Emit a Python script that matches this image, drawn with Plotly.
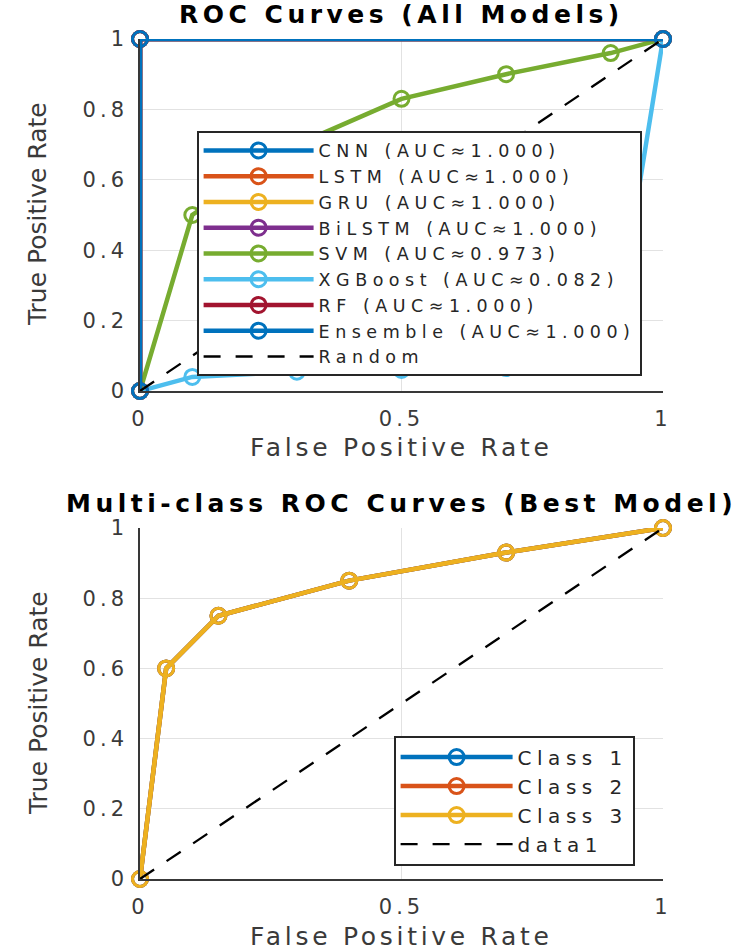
import plotly.graph_objects as go

# ---------------- data ----------------
model_names = ["CNN", "LSTM", "GRU", "BiLSTM", "SVM", "XGBoost", "RF", "Ensemble"]
model_auc = ["1.000", "1.000", "1.000", "1.000", "0.973", "0.082", "1.000", "1.000"]
model_colors = ["#0072BD", "#D95319", "#EDB120", "#7E2F8E", "#77AC30", "#4DBEEE", "#A2142F", "#0072BD"]

perfect_fpr = [0, 0, 1]
perfect_tpr = [0, 1, 1]
svm_fpr = [0, 0.1, 0.3, 0.5, 0.7, 0.9, 1]
svm_tpr = [0, 0.5, 0.7, 0.83, 0.9, 0.96, 1]
xgb_fpr = [0, 0.1, 0.3, 0.5, 0.7, 0.9, 1]
xgb_tpr = [0, 0.04, 0.055, 0.06, 0.065, 0.08, 1]

class_names = ["Class 1", "Class 2", "Class 3"]
class_colors = ["#0072BD", "#D95319", "#EDB120"]
class_fpr = [0, 0.05, 0.15, 0.4, 0.7, 1]
class_tpr = [0, 0.6, 0.75, 0.85, 0.93, 1]

diag_x = [0, 1]
diag_y = [0, 1]

x_tickvals = [0, 0.5, 1]
x_ticktext = ["0", "0.5", "1"]
y_tickvals = [0, 0.2, 0.4, 0.6, 0.8, 1]
y_ticktext = ["0", "0.2", "0.4", "0.6", "0.8", "1"]

curve_data = {
    "CNN": (perfect_fpr, perfect_tpr),
    "LSTM": (perfect_fpr, perfect_tpr),
    "GRU": (perfect_fpr, perfect_tpr),
    "BiLSTM": (perfect_fpr, perfect_tpr),
    "SVM": (svm_fpr, svm_tpr),
    "XGBoost": (xgb_fpr, xgb_tpr),
    "RF": (perfect_fpr, perfect_tpr),
    "Ensemble": (perfect_fpr, perfect_tpr),
}

# ---------------- style ----------------
FONT = "DejaVu Sans"
TXT = "#3a3a3a"
LW = 4.5
MS = 15
MLW = 3


def sp(text, px):
    return f'<span style="letter-spacing:{px}px">{text}</span>'


fig = go.Figure()

for name, auc, col in zip(model_names, model_auc, model_colors):
    fx, fy = curve_data[name]
    fig.add_trace(go.Scatter(
        x=fx, y=fy, mode="lines+markers",
        name=sp(f"{name} (AUC\u2248{auc})", 5.5),
        line=dict(color=col, width=LW),
        marker=dict(symbol="circle-open", size=MS, color=col, line=dict(width=MLW, color=col)),
        cliponaxis=False, xaxis="x", yaxis="y", legend="legend",
    ))

fig.add_trace(go.Scatter(
    x=diag_x, y=diag_y, mode="lines", name=sp("Random", 5.5),
    line=dict(color="black", width=2.3, dash="17px,15px"),
    xaxis="x", yaxis="y", legend="legend",
))

for name, col in zip(class_names, class_colors):
    fig.add_trace(go.Scatter(
        x=class_fpr, y=class_tpr, mode="lines+markers",
        name=sp(name, 5.5),
        line=dict(color=col, width=LW),
        marker=dict(symbol="circle-open", size=MS, color=col, line=dict(width=MLW, color=col)),
        cliponaxis=False, xaxis="x2", yaxis="y2", legend="legend2",
    ))

fig.add_trace(go.Scatter(
    x=diag_x, y=diag_y, mode="lines", name=sp("data1", 5.5),
    line=dict(color="black", width=2.3, dash="17px,15px"),
    xaxis="x2", yaxis="y2", legend="legend2",
))

W, H = 752, 952


def px_x(p):
    return p / W


def px_y(p):
    return 1 - p / H


axis_common = dict(
    range=[0, 1], showgrid=True, gridcolor="#e2e2e2", gridwidth=1,
    zeroline=False, showline=True, linecolor="#383838", linewidth=1.6,
    ticks="", tickfont=dict(family=FONT, size=21, color=TXT),
    fixedrange=True,
)

x_ticks = [sp(t, 4) for t in x_ticktext]
y_ticks = [sp(t, 4) for t in y_ticktext]

fig.update_layout(
    width=W, height=H, template="none",
    paper_bgcolor="white", plot_bgcolor="white",
    margin=dict(l=0, r=0, t=0, b=0),
    showlegend=True,
    xaxis=dict(axis_common, domain=[px_x(140), px_x(663)], anchor="y",
               tickvals=x_tickvals, ticktext=x_ticks, ticklabelstandoff=8),
    yaxis=dict(axis_common, domain=[px_y(391), px_y(39)], anchor="x",
               tickvals=y_tickvals, ticktext=y_ticks, ticklabelstandoff=6),
    xaxis2=dict(axis_common, domain=[px_x(140), px_x(663)], anchor="y2",
                tickvals=x_tickvals, ticktext=x_ticks, ticklabelstandoff=8),
    yaxis2=dict(axis_common, domain=[px_y(879), px_y(528)], anchor="x2",
                tickvals=y_tickvals, ticktext=y_ticks, ticklabelstandoff=6),
    legend=dict(
        x=px_x(197), y=px_y(131), xanchor="left", yanchor="top",
        bgcolor="white", bordercolor="#262626", borderwidth=1.6,
        font=dict(family=FONT, size=17.5, color="#262626"),
        itemwidth=110, tracegroupgap=0,
    ),
    legend2=dict(
        x=px_x(394), y=px_y(736), xanchor="left", yanchor="top",
        bgcolor="white", bordercolor="#262626", borderwidth=1.6,
        font=dict(family=FONT, size=20, color="#262626"),
        itemwidth=112, tracegroupgap=0,
    ),
    annotations=[
        dict(text=sp("<b>ROC Curves (All Models)</b>", 4.5), x=px_x(402), y=px_y(15),
             xref="paper", yref="paper", showarrow=False, xanchor="center", yanchor="middle",
             font=dict(family=FONT, size=25, color="black")),
        dict(text=sp("<b>Multi-class ROC Curves (Best Model)</b>", 4.5), x=px_x(402), y=px_y(503),
             xref="paper", yref="paper", showarrow=False, xanchor="center", yanchor="middle",
             font=dict(family=FONT, size=25, color="black")),
        dict(text=sp("False Positive Rate", 3.7), x=px_x(402), y=px_y(447),
             xref="paper", yref="paper", showarrow=False, xanchor="center", yanchor="middle",
             font=dict(family=FONT, size=25, color=TXT)),
        dict(text=sp("False Positive Rate", 3.7), x=px_x(402), y=px_y(936),
             xref="paper", yref="paper", showarrow=False, xanchor="center", yanchor="middle",
             font=dict(family=FONT, size=25, color=TXT)),
        dict(text="True Positive Rate", x=px_x(38), y=px_y(214), textangle=-90,
             xref="paper", yref="paper", showarrow=False, xanchor="center", yanchor="middle",
             font=dict(family=FONT, size=25, color=TXT)),
        dict(text="True Positive Rate", x=px_x(38), y=px_y(703), textangle=-90,
             xref="paper", yref="paper", showarrow=False, xanchor="center", yanchor="middle",
             font=dict(family=FONT, size=25, color=TXT)),
    ],
)

fig.write_html("out.html")
